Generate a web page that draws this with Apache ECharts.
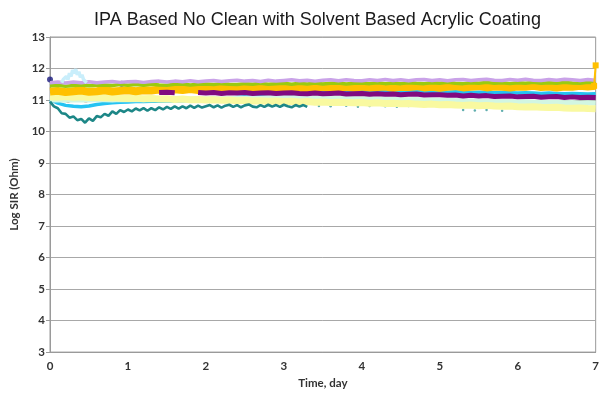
<!DOCTYPE html>
<html>
<head>
<meta charset="utf-8">
<script src="https://cdn.jsdelivr.net/npm/echarts@6/dist/echarts.min.js"></script>
<style>html,body{margin:0;padding:0;background:#fff}#c{width:602px;height:394px}</style>
</head>
<body>
<div id="c"></div>
<script>
// ---- data ----
const titleText = "IPA Based No Clean with Solvent Based Acrylic Coating";
const xTitle = "Time, day";
const yTitle = "Log SIR (Ohm)";

const days = [0,0.1,0.2,0.3,0.4,0.5,0.6,0.7,0.8,0.9,1,1.1,1.2,1.3,1.4,1.5,1.6,1.7,1.8,1.9,2,2.1,2.2,2.3,2.4,2.5,2.6,2.7,2.8,2.9,3,3.1,3.2,3.3,3.4,3.5,3.6,3.7,3.8,3.9,4,4.1,4.2,4.3,4.4,4.5,4.6,4.7,4.8,4.9,5,5.1,5.2,5.3,5.4,5.5,5.6,5.7,5.8,5.9,6,6.1,6.2,6.3,6.4,6.5,6.6,6.7,6.8,6.9,7];

const lavender = [11.55,11.57,11.54,11.57,11.55,11.58,11.55,11.57,11.59,11.56,
11.58,11.59,11.56,11.59,11.60,11.57,11.60,11.58,11.61,11.58,
11.60,11.62,11.59,11.61,11.63,11.60,11.62,11.59,11.63,11.60,
11.62,11.64,11.61,11.63,11.60,11.63,11.64,11.61,11.64,11.62,
11.61,11.64,11.62,11.65,11.62,11.64,11.61,11.64,11.65,11.62,
11.64,11.61,11.64,11.65,11.62,11.64,11.66,11.63,11.62,11.65,
11.63,11.66,11.63,11.62,11.65,11.63,11.66,11.64,11.62,11.65,11.63];

const green = [11.45,11.47,11.44,11.46,11.48,11.45,11.47,11.48,11.46,11.49,
11.47,11.49,11.47,11.50,11.48,11.47,11.50,11.51,11.48,11.50,
11.51,11.49,11.52,11.50,11.49,11.52,11.50,11.53,11.50,11.52,
11.53,11.50,11.53,11.51,11.54,11.51,11.53,11.54,11.51,11.53,
11.54,11.52,11.55,11.52,11.54,11.52,11.55,11.53,11.52,11.55,
11.53,11.56,11.53,11.52,11.55,11.53,11.56,11.53,11.55,11.52,
11.55,11.53,11.56,11.53,11.55,11.53,11.56,11.54,11.53,11.56,11.54];

const orange = [11.27,11.29,11.25,11.28,11.30,11.26,11.28,11.31,11.27,11.29,
11.31,11.28,11.31,11.30,11.33,11.30,11.34,11.32,11.35,11.32,
11.36,11.33,11.37,11.35,11.38,11.35,11.39,11.36,11.38,11.40,
11.37,11.41,11.39,11.37,11.41,11.42,11.38,11.40,11.42,11.39,
11.43,11.40,11.41,11.43,11.39,11.42,11.41,11.44,11.40,11.42,
11.39,11.42,11.44,11.40,11.42,11.44,11.40,11.43,11.42,11.40,
11.43,11.42,11.45,11.41,11.43,11.40,11.43,11.42,11.45,11.43,11.45];

const orangeEndDays = [6.98, 7.0];
const orangeEndVals = [11.45, 12.1];

const purple = [null,null,null,null,null,null,null,null,null,null,
null,null,null,null,11.24,11.25,11.23,null,null,11.24,
11.22,11.24,11.21,11.23,11.22,11.24,11.21,11.22,11.23,11.21,
11.22,11.23,11.21,11.20,11.22,11.20,11.21,11.22,11.19,11.20,
11.21,11.18,11.20,11.18,11.19,11.17,11.18,11.19,11.16,11.17,
11.17,11.15,11.16,11.13,11.15,11.13,11.14,11.11,11.12,11.13,
11.10,11.11,11.12,11.09,11.10,11.11,11.08,11.10,11.08,11.09,11.08];

const brownDotDays = [0.23, 0.46, 0.75];
const brownDotVals = [10.96, 10.97, 10.96];

const mint = [11.00,11.01,10.99,11.00,11.01,11.00,11.02,11.01,11.00,11.02,
11.01,11.02,11.01,11.03,11.02,11.03,11.02,11.04,11.03,11.04,
11.04,11.05,11.04,11.06,11.05,11.06,11.07,11.06,11.08,11.07,
11.08,11.07,11.08,11.06,11.07,11.06,11.07,11.05,11.06,11.05,
11.04,11.05,11.03,11.04,11.02,11.03,11.01,11.02,11.00,11.01,
10.99,11.00,10.98,10.99,10.97,10.98,10.96,10.97,10.95,10.96,
10.94,10.95,10.93,10.94,10.92,10.93,10.91,10.92,10.90,10.91,10.90];

const paleYellow = [11.10,11.09,11.11,11.09,11.10,11.08,11.09,11.07,11.08,11.06,
11.05,11.06,11.04,11.05,11.03,11.04,11.02,11.03,11.01,11.02,
11.00,11.01,10.99,11.00,10.98,10.99,10.97,10.98,10.96,10.97,
10.95,10.96,10.94,10.95,10.93,10.94,10.92,10.93,10.92,10.91,
10.92,10.90,10.91,10.89,10.90,10.88,10.89,10.87,10.86,10.87,
10.85,10.86,10.84,10.83,10.84,10.82,10.83,10.81,10.80,10.81,
10.79,10.78,10.79,10.77,10.76,10.77,10.75,10.74,10.75,10.73,10.72];

const cyan = [11.02,10.90,10.83,10.80,10.79,10.81,10.86,10.89,10.91,10.93,
10.94,10.95,10.95,10.96,10.96,10.97,10.97,10.98,10.99,10.99,
11.00,11.02,11.04,11.06,11.08,11.10,11.12,11.14,11.15,11.17,
11.18,11.19,11.20,11.21,11.22,11.23,11.24,11.24,11.25,11.25,
11.26,11.26,11.27,11.26,11.27,11.26,11.27,11.26,11.27,11.26,
11.26,11.25,11.26,11.25,11.24,11.25,11.24,11.23,11.24,11.23,
11.22,11.23,11.22,11.21,11.22,11.21,11.20,11.21,11.20,11.19,11.20];

const tealDays = [0,0.05,0.1,0.15,0.2,0.25,0.3,0.35,0.4,0.45,0.5,0.55,0.6,0.65,0.7,0.75,0.8,0.85,0.9,0.95,
1,1.05,1.1,1.15,1.2,1.25,1.3,1.35,1.4,1.45,1.5,1.55,1.6,1.65,1.7,1.75,1.8,1.85,1.9,1.95,
2,2.05,2.1,2.15,2.2,2.25,2.3,2.35,2.4,2.45,2.5,2.55,2.6,2.65,2.7,2.75,2.8,2.85,2.9,2.95,
3,3.05,3.1,3.15,3.2,3.25,3.3];
const teal = [10.95,10.80,10.74,10.58,10.56,10.44,10.48,10.36,10.40,10.28,10.42,10.34,10.49,10.45,10.56,10.50,10.64,10.56,10.68,10.62,
10.70,10.64,10.73,10.67,10.74,10.66,10.74,10.68,10.77,10.70,10.78,10.72,10.80,10.73,10.80,10.74,10.82,10.75,10.82,10.76,
10.80,10.84,10.77,10.83,10.76,10.82,10.85,10.78,10.84,10.77,10.83,10.86,10.79,10.77,10.84,10.78,10.85,10.79,10.84,10.78,
10.85,10.80,10.77,10.84,10.79,10.84,10.78];
const tealDotDays = [3.45,3.6,3.8,3.95,4.1,4.3,4.45,4.6,5.3,5.45,5.6,5.8];
const tealDotVals = [10.81,10.80,10.82,10.79,10.81,10.80,10.79,10.81,10.68,10.67,10.68,10.66];

const skyDays = [0.15,0.17,0.19,0.21,0.23,0.25,0.27,0.29,0.31,0.33,0.35,0.37,0.39,0.41,0.43,0.45,0.47];
const skyVals = [11.55,11.65,11.60,11.75,11.65,11.85,11.75,11.95,11.85,11.98,11.80,11.90,11.72,11.80,11.65,11.62,11.55];

const navyDays = [0, 0.92];
const navyVals = [11.65, 11.52];

const yMin = 3, yMax = 13, yStep = 1;
const xMin = 0, xMax = 7, xStep = 1;

// ---- build ----
const pairs = (xs, ys) => xs.map((x, i) => [x, ys[i]]);
const line = (name, xs, ys, color, width, extra) => Object.assign({
  name, type: 'line', data: pairs(xs, ys), showSymbol: false, symbol: 'none',
  lineStyle: { color, width }, itemStyle: { color }, connectNulls: false, animation: false
}, extra || {});
const dots = (name, xs, ys, color, size, shape) => ({
  name, type: 'scatter', data: pairs(xs, ys), symbol: shape || 'circle', symbolSize: size,
  itemStyle: { color }, animation: false
});

const labelFont = { fontFamily: 'Lato', fontWeight: 'bold', fontSize: 11.5, color: '#333' };
const nameFont = { fontFamily: 'Lato', fontWeight: 'bold', fontSize: 11.5, color: '#333' };

const chart = echarts.init(document.getElementById('c'), null, { renderer: 'canvas' });
chart.setOption({
  backgroundColor: '#ffffff',
  title: {
    text: titleText, left: 89, top: 6,
    textStyle: { fontFamily: 'Liberation Sans', fontWeight: 'normal', fontSize: 18, color: '#1a1a1a' }
  },
  grid: { left: 50, right: 2, top: 37, bottom: 37, show: true, borderColor: '#9a9a9a', borderWidth: 1 },
  xAxis: {
    type: 'value', min: xMin, max: xMax, interval: xStep,
    name: xTitle, nameLocation: 'middle', nameGap: 20,
    nameTextStyle: nameFont,
    axisLine: { show: true, lineStyle: { color: '#9a9a9a' } },
    axisTick: { show: false },
    splitLine: { show: false },
    axisLabel: Object.assign({ margin: 8 }, labelFont)
  },
  yAxis: {
    type: 'value', min: yMin, max: yMax, interval: yStep,
    name: yTitle, nameLocation: 'middle', nameGap: 24, nameRotate: 90,
    nameTextStyle: nameFont,
    axisLine: { show: true, lineStyle: { color: '#9a9a9a' } },
    axisTick: { show: true, length: 4, lineStyle: { color: '#9a9a9a' } },
    splitLine: { show: true, lineStyle: { color: '#a8a8a8', width: 1 } },
    axisLabel: Object.assign({ margin: 5 }, labelFont)
  },
  series: [
    dots('navy', navyDays, navyVals, '#1a1a80', 6),
    line('cyan', days, cyan, '#25c3f2', 3.5),
    line('mint', days, mint, '#d2f6e2', 5),
    line('paleYellow', days, paleYellow, '#f9f9a0', 7),
    line('teal', tealDays, teal, '#1d8787', 2.6),
    dots('tealDots', tealDotDays, tealDotVals, '#3a9a9a', 2.5),
    line('orange', days, orange, '#ffc000', 8),
    line('purple', days, purple, '#800a80', 5),
    line('green', days, green, '#9acb10', 3.5),
    line('lavender', days, lavender, '#c9a2e8', 3.5),
    line('sky', skyDays, skyVals, '#c9eefb', 3.5),
    dots('brownDots', brownDotDays, brownDotVals, '#b0553a', 3, 'rect'),
    line('orangeEnd', orangeEndDays, orangeEndVals, '#ffc000', 2,
      { showSymbol: true, symbol: 'rect', symbolSize: 6, clip: false })
  ]
});
</script>
</body>
</html>
